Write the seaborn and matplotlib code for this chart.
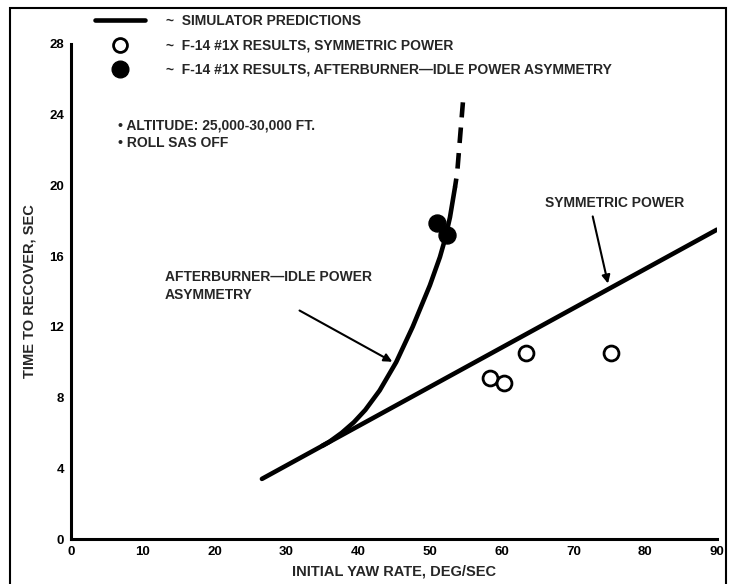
import matplotlib
matplotlib.use("Agg")
import matplotlib.pyplot as plt
import seaborn as sns
from matplotlib.lines import Line2D
from matplotlib.patches import Rectangle

sns.set_style("white")
plt.rcParams['font.family'] = ['Liberation Sans', 'DejaVu Sans']
plt.rcParams['font.size'] = 10
plt.rcParams['font.weight'] = 'bold'
plt.rcParams['axes.labelweight'] = 'bold'

# Simulator prediction, symmetric power (straight line)
sym_x = [26.6, 90.0]
sym_y = [3.4, 17.5]

# Simulator prediction, afterburner-idle power asymmetry (solid part)
ab_x = [35.0, 36.0, 37.7, 39.4, 41.0, 43.0, 45.3, 47.6, 50.0, 51.4, 52.1, 52.8, 53.5]
ab_y = [5.27, 5.5, 6.0, 6.6, 7.3, 8.4, 10.0, 12.0, 14.35, 15.95, 16.95, 18.2, 19.9]
# extrapolated (dashed) part
ab_dash_x = [53.5, 53.8, 54.2, 54.6]
ab_dash_y = [19.9, 20.7, 22.7, 24.7]

# F-14 #1X flight results
f14_sym_x = [58.4, 60.3, 63.4, 75.2]
f14_sym_y = [9.1, 8.8, 10.5, 10.5]
f14_asym_x = [51.0, 52.4]
f14_asym_y = [17.9, 17.2]

x_ticks = list(range(0, 91, 10))
y_ticks = list(range(0, 29, 4))

LW = 3.3

fig = plt.figure(figsize=(7.29, 5.84), dpi=100)
ax = fig.add_axes([71 / 729, 45 / 584, 646 / 729, 495 / 584])

sns.lineplot(x=sym_x, y=sym_y, ax=ax, color='black', lw=LW,
             solid_capstyle='round')
sns.lineplot(x=ab_x, y=ab_y, ax=ax, color='black', lw=LW,
             solid_capstyle='round', solid_joinstyle='round')
sns.lineplot(x=ab_dash_x, y=ab_dash_y, ax=ax, color='black', lw=LW,
             linestyle=(1.5, (3.4, 2.2)))

sns.scatterplot(x=f14_sym_x, y=f14_sym_y, ax=ax, s=115, facecolor='white',
                edgecolor='black', linewidth=2, zorder=5)
sns.scatterplot(x=f14_asym_x, y=f14_asym_y, ax=ax, s=150, color='black',
                edgecolor='black', zorder=5)

# annotations
ax.annotate('', xy=(74.9, 14.3), xytext=(72.6, 18.4),
            arrowprops=dict(arrowstyle='-|>', color='black', lw=1.5,
                            mutation_scale=12))
ax.text(66.0, 19.0, 'SYMMETRIC POWER', ha='left', va='center')

ax.annotate('', xy=(45.1, 9.95), xytext=(31.5, 13.0),
            arrowprops=dict(arrowstyle='-|>', color='black', lw=1.5,
                            mutation_scale=12))
ax.text(13.1, 14.8, 'AFTERBURNER\u2014IDLE POWER', ha='left', va='center')
ax.text(13.1, 13.8, 'ASYMMETRY', ha='left', va='center')

ax.text(6.5, 23.4, '\u2022 ALTITUDE: 25,000-30,000 FT.', ha='left', va='center')
ax.text(6.5, 22.4, '\u2022 ROLL SAS OFF', ha='left', va='center')

# legend above the axes
handles = [
    Line2D([], [], color='black', lw=LW, solid_capstyle='round'),
    Line2D([], [], marker='o', ls='none', mfc='white', mec='black', mew=2, ms=10),
    Line2D([], [], marker='o', ls='none', color='black', ms=12),
]
labels = [
    '~  SIMULATOR PREDICTIONS',
    '~  F-14 #1X RESULTS, SYMMETRIC POWER',
    '~  F-14 #1X RESULTS, AFTERBURNER\u2014IDLE POWER ASYMMETRY',
]
ax.legend(handles, labels, loc='upper left', frameon=False,
          bbox_to_anchor=(95 / 729, 1 - 14 / 584), bbox_transform=fig.transFigure,
          handlelength=3.6, handletextpad=1.5, labelspacing=0.75,
          borderpad=0, borderaxespad=0, prop={'size': 10, 'weight': 'bold'})

ax.set_xlim(0, 90)
ax.set_ylim(0, 28)
ax.set_xticks(x_ticks)
ax.set_yticks(y_ticks)
ax.tick_params(direction='in', length=9, width=1.8, pad=5, labelsize=9.5,
               colors='black')
sns.despine(ax=ax)
for side in ['left', 'bottom']:
    ax.spines[side].set_linewidth(2.2)
    ax.spines[side].set_color('black')

ax.set_xlabel('INITIAL YAW RATE, DEG/SEC', fontsize=10.5, labelpad=5)
ax.set_ylabel('TIME TO RECOVER, SEC', fontsize=10.5, labelpad=9)

# frame around the whole figure
fig.patches.append(Rectangle((10 / 729, -0.02), 716 / 729, 1 - 8 / 584 + 0.02,
                             transform=fig.transFigure, fill=False,
                             edgecolor='black', lw=1.5))

fig.savefig('out.png', dpi=100)
